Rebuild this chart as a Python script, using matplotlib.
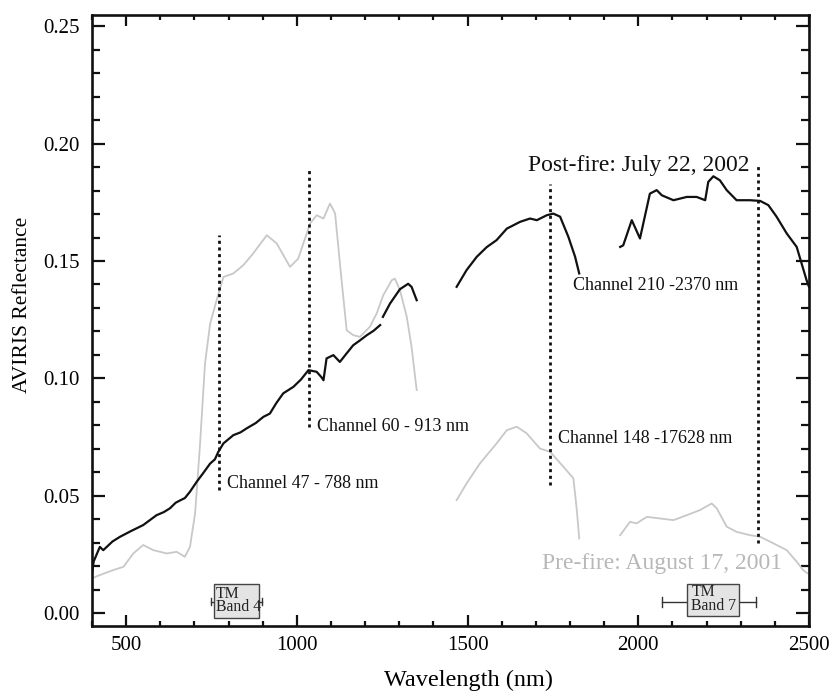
import matplotlib
matplotlib.use("Agg")
import matplotlib.pyplot as plt
from matplotlib.patches import Rectangle
from matplotlib.ticker import MultipleLocator

plt.rcParams['font.family'] = ['Liberation Serif', 'DejaVu Serif']

# ---- data ----
post1_x = [400, 405, 423, 433, 460, 482, 515, 550, 589, 610, 628, 645, 658, 672, 687, 707, 725, 746, 760, 770, 785, 814, 835, 853, 880, 902, 921, 940, 960, 990, 1012, 1034, 1058, 1072, 1078, 1087, 1107, 1126, 1145, 1165, 1185, 1205, 1225, 1244]
post1_y = [0.017, 0.022, 0.0282, 0.0268, 0.0305, 0.0325, 0.035, 0.0375, 0.0417, 0.043, 0.0446, 0.047, 0.048, 0.049, 0.0517, 0.056, 0.0595, 0.0637, 0.0655, 0.0687, 0.0723, 0.0758, 0.077, 0.0787, 0.081, 0.0836, 0.085, 0.0895, 0.0936, 0.0964, 0.0995, 0.1035, 0.1028, 0.1005, 0.0992, 0.1085, 0.1099, 0.107, 0.1105, 0.1141, 0.1162, 0.1184, 0.1203, 0.1227]
post2_x = [1252, 1273, 1302, 1326, 1336, 1351]
post2_y = [0.1262, 0.1319, 0.138, 0.1403, 0.139, 0.1333]
post3_x = [1468, 1497, 1527, 1556, 1585, 1615, 1654, 1683, 1703, 1732, 1751, 1771, 1795, 1815, 1827]
post3_y = [0.139, 0.1461, 0.1518, 0.1559, 0.1589, 0.1638, 0.1667, 0.1681, 0.1674, 0.1695, 0.1702, 0.1689, 0.1604, 0.1518, 0.1447]
post4_x = [1947, 1956, 1981, 2005, 2034, 2054, 2069, 2103, 2142, 2171, 2196, 2205, 2220, 2239, 2259, 2288, 2327, 2357, 2381, 2405, 2435, 2464, 2493, 2500]
post4_y = [0.156, 0.1567, 0.1674, 0.1596, 0.1787, 0.1802, 0.178, 0.1759, 0.1773, 0.1773, 0.1759, 0.1837, 0.1861, 0.1844, 0.1802, 0.1759, 0.1759, 0.1756, 0.1738, 0.1689, 0.1617, 0.156, 0.1418, 0.139]

pre1_x = [400, 423, 462, 492, 521, 550, 580, 619, 648, 672, 687, 702, 716, 731, 746, 765, 785, 814, 843, 872, 912, 941, 980, 1004, 1039, 1058, 1078, 1097, 1112, 1131, 1146, 1165, 1185, 1214, 1234, 1253, 1278, 1287, 1302, 1322, 1336, 1351]
pre1_y = [0.0148, 0.0162, 0.0183, 0.0197, 0.0254, 0.029, 0.0268, 0.0254, 0.0261, 0.024, 0.0282, 0.0425, 0.0709, 0.1063, 0.1233, 0.1333, 0.1432, 0.1447, 0.1482, 0.1532, 0.161, 0.1575, 0.1475, 0.151, 0.166, 0.1695, 0.1681, 0.1745, 0.1703, 0.1418, 0.1205, 0.1184, 0.1177, 0.122, 0.1277, 0.1354, 0.1418, 0.1425, 0.1376, 0.1262, 0.1134, 0.095]
pre2_x = [1468, 1497, 1536, 1585, 1615, 1644, 1673, 1712, 1742, 1781, 1810, 1820, 1827]
pre2_y = [0.0481, 0.0552, 0.0637, 0.0723, 0.0779, 0.0794, 0.0766, 0.0701, 0.0687, 0.0623, 0.0574, 0.0439, 0.0318]
pre3_x = [1947, 1976, 1995, 2025, 2064, 2103, 2142, 2181, 2215, 2230, 2259, 2288, 2327, 2357, 2396, 2435, 2464, 2483, 2495]
pre3_y = [0.0332, 0.0389, 0.0382, 0.041, 0.0403, 0.0396, 0.0417, 0.0439, 0.0467, 0.0446, 0.0368, 0.0346, 0.0332, 0.0325, 0.0297, 0.0268, 0.0219, 0.0183, 0.017]

channel_x = [773, 1037, 1741, 2352]
channel_ymin = [0.0524, 0.0794, 0.0545, 0.0297]
channel_ymax = [0.161, 0.1887, 0.183, 0.1908]
channel_labels = ["Channel 47 - 788 nm", "Channel 60 - 913 nm", "Channel 148 -17628 nm", "Channel 210 -2370 nm"]
channel_label_x = [795, 1058, 1766, 1810]
channel_label_y = [0.0552, 0.0796, 0.0744, 0.1397]

tm_names = ["Band 4", "Band 7"]
tm_range = [(750, 897), (2070, 2344)]
tm_box = [(758, 890), (2142, 2295)]

# ---- figure ----
fig = plt.figure(figsize=(8.31, 6.94), dpi=100)
ax = fig.add_axes([0.1107, 0.098, 0.8628, 0.880])

black = '#111111'
gray = '#c8c8c8'
for xs, ys in [(pre1_x, pre1_y), (pre2_x, pre2_y), (pre3_x, pre3_y)]:
    ax.plot(xs, ys, color=gray, lw=1.3, solid_joinstyle='round')
for xs, ys in [(post1_x, post1_y), (post2_x, post2_y), (post3_x, post3_y), (post4_x, post4_y)]:
    ax.plot(xs, ys, color=black, lw=1.6, solid_joinstyle='round')

for cx, y0, y1 in zip(channel_x, channel_ymin, channel_ymax):
    ax.plot([cx, cx], [y0, y1], color=black, lw=2.0, linestyle=(0, (1.1, 1.3)))
for lab, lx, ly in zip(channel_labels, channel_label_x, channel_label_y):
    ax.text(lx, ly, lab, fontsize=13, va='center', ha='left', color=black)

ax.text(1678, 0.1908, "Post-fire: July 22, 2002", fontsize=17, va='center', ha='left', color=black)
ax.text(1717, 0.0212, "Pre-fire: August 17, 2001", fontsize=17, va='center', ha='left', color='#b8b8b8')

# TM band boxes
for name, (w0, w1), (b0, b1), cap, ybot in zip(tm_names, tm_range, tm_box, [0.0015, 0.002], [-0.0023, -0.0013]):
    yw = 0.0048
    ax.plot([w0, b0], [yw, yw], color='#333333', lw=1.0)
    ax.plot([b1, w1], [yw, yw], color='#333333', lw=1.0)
    ax.plot([w0, w0], [yw - cap, yw + cap], color='#333333', lw=1.0)
    ax.plot([w1, w1], [yw - cap, yw + cap], color='#333333', lw=1.0)
    ax.add_patch(Rectangle((b0, ybot), b1 - b0, 0.0126 - ybot, facecolor='#e4e4e4',
                           edgecolor='#444444', lw=1.0, zorder=3))
    tx = b0 + (b1 - b0) * (0.04 if name == "Band 4" else 0.09)
    ax.text(tx, (ybot + 0.0126) / 2 + 0.0003, "TM\n" + name, fontsize=11.3, va='center', ha='left',
            linespacing=0.78, zorder=4, color='#222222')

ax.set_xlim(400, 2500)
ax.set_ylim(-0.0055, 0.2547)
ax.xaxis.set_major_locator(MultipleLocator(500))
ax.xaxis.set_minor_locator(MultipleLocator(100))
ax.yaxis.set_major_locator(MultipleLocator(0.05))
ax.yaxis.set_minor_locator(MultipleLocator(0.01))
ax.set_yticks([0, 0.05, 0.10, 0.15, 0.20, 0.25])
ax.set_yticklabels(["0.00", "0.05", "0.10", "0.15", "0.20", "0.25"])

ax.tick_params(axis='both', which='both', direction='in', top=True, right=True, width=1.6, color=black)
ax.tick_params(axis='x', which='major', length=8, pad=7, labelsize=15)
ax.tick_params(axis='x', which='minor', length=3.5)
ax.tick_params(axis='y', which='major', length=9.5, pad=9, labelsize=15)
ax.tick_params(axis='y', which='minor', length=5.5)
for s in ax.spines.values():
    s.set_linewidth(1.9)
    s.set_color(black)

ax.set_xlabel("Wavelength (nm)", fontsize=17.5)
ax.set_ylabel("AVIRIS Reflectance", fontsize=15.5)
ax.xaxis.set_label_coords((469 - 92) / 717, -(680 - 626) / 611)
ax.yaxis.set_label_coords(-(92 - 23) / 717, (626 - 305) / 611)
ax.xaxis.label.set_va('center')
ax.yaxis.label.set_va('center')

fig.savefig("out.png", dpi=100)
